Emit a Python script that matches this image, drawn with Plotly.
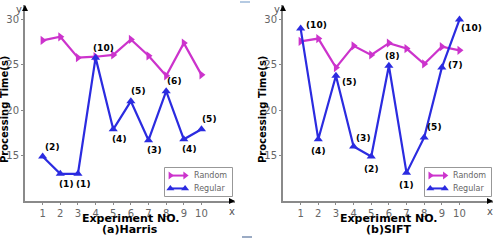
import plotly.graph_objects as go

experiments = [1, 2, 3, 4, 5, 6, 7, 8, 9, 10]
harris_random = [27.7, 28.1, 25.8, 25.9, 26.1, 27.8, 26.0, 23.8, 27.4, 23.9]
harris_regular = [14.9, 13.0, 13.0, 25.8, 17.9, 21.0, 16.7, 22.1, 16.8, 17.9]
harris_labels = ["(2)", "(1)", "(1)", "(10)", "(4)", "(5)", "(3)", "(6)", "(4)", "(5)"]
sift_random = [27.6, 27.9, 24.7, 27.1, 26.1, 27.4, 26.8, 25.1, 27.0, 26.6]
sift_regular = [29.0, 16.8, 23.8, 16.0, 14.9, 24.9, 13.1, 17.0, 24.7, 30.0]
sift_labels = ["(10)", "(4)", "(5)", "(3)", "(2)", "(8)", "(1)", "(5)", "(7)", "(10)"]
x_ticks = [1, 2, 3, 4, 5, 6, 7, 8, 9, 10]
y_ticks = [15, 20, 25, 30]
series_names = ["Random", "Regular"]

MAG = "#CC33CC"
BLUE = "#2B2BE0"
GRAY = "#8A8A8A"
FONT = "DejaVu Sans"

fig = go.Figure()

panels = [
    ("x", "y", harris_random, harris_regular),
    ("x2", "y2", sift_random, sift_regular),
]
for xa, ya, rnd, reg in panels:
    fig.add_trace(go.Scatter(x=experiments, y=rnd, xaxis=xa, yaxis=ya, mode="lines+markers",
                             name=series_names[0], line=dict(color=MAG, width=2.2),
                             marker=dict(symbol="triangle-right", size=8, color=MAG),
                             showlegend=False))
    fig.add_trace(go.Scatter(x=experiments, y=reg, xaxis=xa, yaxis=ya, mode="lines+markers",
                             name=series_names[1], line=dict(color=BLUE, width=2.2),
                             marker=dict(symbol="triangle-up", size=8, color=BLUE),
                             showlegend=False))

# legend samples (in small overlay axes 3 and 4)
for xa, ya in [("x3", "y3"), ("x4", "y4")]:
    fig.add_trace(go.Scatter(x=[0.08, 0.3], y=[0.73, 0.73], xaxis=xa, yaxis=ya, mode="lines+markers",
                             name=series_names[0], line=dict(color=MAG, width=2),
                             marker=dict(symbol="triangle-right", size=7, color=MAG),
                             showlegend=False, hoverinfo="skip"))
    fig.add_trace(go.Scatter(x=[0.08, 0.3], y=[0.27, 0.27], xaxis=xa, yaxis=ya, mode="lines+markers",
                             name=series_names[1], line=dict(color=BLUE, width=2),
                             marker=dict(symbol="triangle-up", size=7, color=BLUE),
                             showlegend=False, hoverinfo="skip"))

harris_off = [(10, 10), (6, -10), (6, -10), (8, 10), (6, -10), (8, 10), (6, -10), (8, 10), (6, -10), (8, 10)]
sift_off = [(16, 4), (0, -12), (14, -6), (10, 9), (0, -12), (4, 10), (0, -12), (10, 10), (14, 3), (12, -8)]

annotations = []
for xa, ya, reg, labs, offs in [("x", "y", harris_regular, harris_labels, harris_off),
                                ("x2", "y2", sift_regular, sift_labels, sift_off)]:
    for xv, yv, lab, (dx, dy) in zip(experiments, reg, labs, offs):
        annotations.append(dict(x=xv, y=yv, xref=xa, yref=ya, text="<b>" + lab + "</b>",
                                showarrow=False, xshift=dx, yshift=dy,
                                font=dict(family=FONT, size=9, color="black")))

y0, y1 = 1 - 201 / 240, 1 - 5 / 240
doms = [(25 / 498, 235 / 498), (283 / 498, 493 / 498)]
titles = ["(a)Harris", "(b)SIFT"]
for i, (d, t) in enumerate(zip(doms, titles)):
    xr = "x domain" if i == 0 else "x2 domain"
    yr = "y domain" if i == 0 else "y2 domain"
    annotations.append(dict(x=1.0, y=0, xref=xr, yref=yr, ax=-6, ay=0, showarrow=True,
                            arrowhead=2, arrowsize=1, arrowwidth=1.2, arrowcolor="black", text=""))
    annotations.append(dict(x=0, y=1.0, xref=xr, yref=yr, ax=0, ay=6, showarrow=True,
                            arrowhead=2, arrowsize=1, arrowwidth=1.2, arrowcolor="black", text=""))
    annotations.append(dict(x=0.985, y=0, xref=xr, yref=yr, text="x", showarrow=False,
                            xanchor="center", yanchor="middle", yshift=-10,
                            font=dict(family=FONT, size=10, color="#555")))
    annotations.append(dict(x=0, y=1.0, xref=xr, yref=yr, text="y", showarrow=False,
                            xanchor="center", yanchor="middle", xshift=-6, yshift=-4,
                            font=dict(family=FONT, size=10, color="#555")))
    annotations.append(dict(x=0.5, y=-0.09, xref=xr, yref=yr, text="<b>Experiment NO.</b>",
                            showarrow=False, font=dict(family=FONT, size=11, color="black"),
                            xanchor="center", yanchor="middle"))
    annotations.append(dict(x=0.5, y=-0.145, xref=xr, yref=yr, text="<b>" + t + "</b>",
                            showarrow=False, font=dict(family=FONT, size=11, color="black"),
                            xanchor="center", yanchor="middle"))
    annotations.append(dict(x=-0.1, y=0.464, xref=xr, yref=yr,
                            text="<b>Processing Time(s)</b>", textangle=-90, showarrow=False,
                            xanchor="center", yanchor="middle",
                            font=dict(family=FONT, size=10, color="black")))

# legend texts
for xr, yr in [("x3 domain", "y3 domain"), ("x4 domain", "y4 domain")]:
    for name, yy in zip(series_names, [0.73, 0.27]):
        annotations.append(dict(x=0.4, y=yy, xref=xr, yref=yr, text=name, showarrow=False,
                                xanchor="left", yanchor="middle",
                                font=dict(family=FONT, size=8, color="#666")))

axis_common = dict(showgrid=False, zeroline=False, showline=True, linecolor=GRAY, linewidth=2,
                   ticks="outside", ticklen=2, tickcolor=GRAY,
                   tickfont=dict(family=FONT, size=10, color="#666"))
hidden = dict(visible=False, range=[0, 1], fixedrange=True)

leg_y = [1 - 196 / 240, 1 - 168 / 240]
shapes = [
    dict(type="line", xref="paper", yref="paper", x0=240 / 498, x1=250 / 498, y0=1 - 2 / 240, y1=1 - 2 / 240,
         line=dict(color="#9DB8D8", width=1.5)),
    dict(type="line", xref="paper", yref="paper", x0=242 / 498, x1=252 / 498, y0=1 - 237 / 240, y1=1 - 237 / 240,
         line=dict(color="#7A8FB0", width=1.5)),
]
for xr, yr in [("x3 domain", "y3 domain"), ("x4 domain", "y4 domain")]:
    shapes.append(dict(type="rect", xref=xr, yref=yr, x0=0, x1=1, y0=0, y1=1, layer="below",
                       line=dict(color="#777", width=1.5), fillcolor="white"))

fig.update_layout(
    width=498, height=240, margin=dict(l=0, r=0, t=0, b=0),
    paper_bgcolor="white", plot_bgcolor="white",
    xaxis=dict(domain=list(doms[0]), range=[0, 11.9], tickvals=x_ticks, anchor="y", **axis_common),
    yaxis=dict(domain=[y0, y1], range=[10, 31.6], tickvals=y_ticks, anchor="x", **axis_common),
    xaxis2=dict(domain=list(doms[1]), range=[0, 11.9], tickvals=x_ticks, anchor="y2", **axis_common),
    yaxis2=dict(domain=[y0, y1], range=[10, 31.6], tickvals=y_ticks, anchor="x2", **axis_common),
    xaxis3=dict(domain=[165 / 498, 232 / 498], anchor="y3", **hidden),
    yaxis3=dict(domain=leg_y, anchor="x3", **hidden),
    xaxis4=dict(domain=[425 / 498, 491 / 498], anchor="y4", **hidden),
    yaxis4=dict(domain=leg_y, anchor="x4", **hidden),
    annotations=annotations,
    shapes=shapes,
    showlegend=False,
)

fig.write_html("out.html")
